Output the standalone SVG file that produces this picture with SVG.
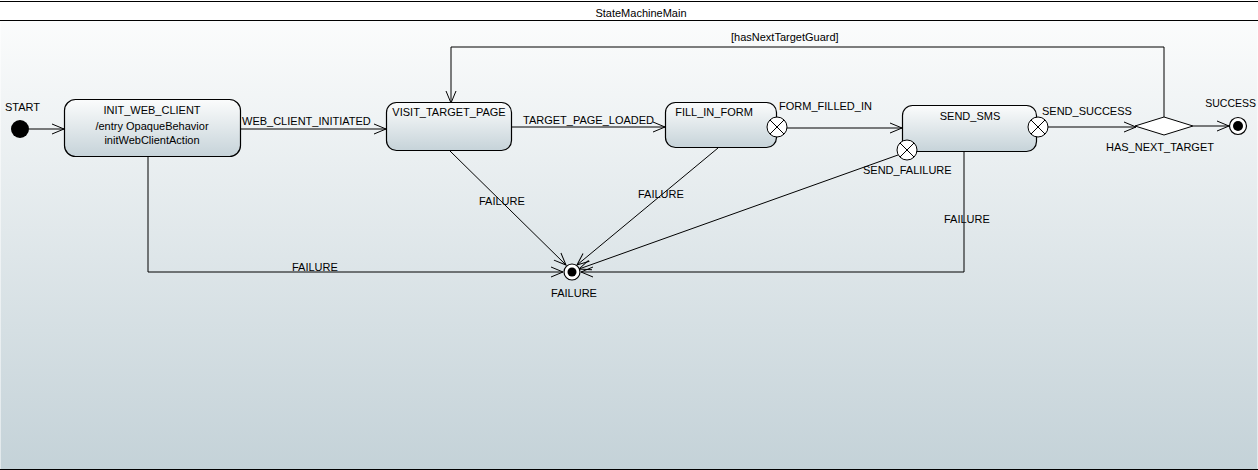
<svg xmlns="http://www.w3.org/2000/svg" width="1258" height="470" viewBox="0 0 1258 470">
<defs>
<linearGradient id="bg" x1="0" y1="0" x2="0" y2="1">
<stop offset="0" stop-color="#fbfcfc"/>
<stop offset="1" stop-color="#c4d2d8"/>
</linearGradient>
<linearGradient id="ng" x1="0" y1="0" x2="0" y2="1">
<stop offset="0" stop-color="#fbfcfc"/>
<stop offset="1" stop-color="#c6d3d9"/>
</linearGradient>
<marker id="arr" markerUnits="userSpaceOnUse" markerWidth="16" markerHeight="14" refX="13" refY="6" orient="auto" overflow="visible">
<path d="M1,1 L13,6 L1,11" fill="none" stroke="#000" stroke-width="1"/>
</marker>
</defs>
<style>
text{font-family:"Liberation Sans",Arial,sans-serif;font-size:11px;fill:#000}
.c{text-anchor:middle}
.st{fill:url(#ng);stroke:#000;stroke-width:1.2}
.ln{fill:none;stroke:#000;stroke-width:1;marker-end:url(#arr)}
.ex{fill:#fff;stroke:#000;stroke-width:1}
</style>
<rect x="0" y="0" width="1258" height="470" fill="#fff"/>
<rect x="0.5" y="20.5" width="1257" height="449" fill="url(#bg)"/>
<line x1="0" y1="1.5" x2="1258" y2="1.5" stroke="#000"/>
<line x1="0" y1="20.5" x2="1258" y2="20.5" stroke="#000"/>
<line x1="0" y1="469.5" x2="1258" y2="469.5" stroke="#000"/>
<text class="c" x="641" y="17">StateMachineMain</text>

<g id="connectors">
<line class="ln" x1="29" y1="129" x2="64" y2="129"/>
<line class="ln" x1="241" y1="129" x2="386" y2="129"/>
<line class="ln" x1="511" y1="127" x2="665" y2="127"/>
<line class="ln" x1="787" y1="128" x2="902" y2="128"/>
<line class="ln" x1="1048" y1="127" x2="1136" y2="127"/>
<line class="ln" x1="1193" y1="126" x2="1229" y2="126"/>
<polyline class="ln" points="1164,117 1164,47 451,47 451,103"/>
<polyline class="ln" points="148,157 148,272 563,272"/>
<line class="ln" x1="450" y1="151" x2="566" y2="265"/>
<line class="ln" x1="718" y1="148" x2="577" y2="265"/>
<line class="ln" x1="898" y1="155" x2="579" y2="269"/>
<polyline class="ln" points="964,152 964,272 581,272"/>
<text x="242" y="125">WEB_CLIENT_INITIATED</text>
<text x="523" y="124">TARGET_PAGE_LOADED</text>
<text x="779" y="110">FORM_FILLED_IN</text>
<text x="1042" y="115">SEND_SUCCESS</text>
<text x="731" y="41">[hasNextTargetGuard]</text>
<text x="292" y="271">FAILURE</text>
<text x="479" y="205">FAILURE</text>
<text x="638" y="198">FAILURE</text>
<text x="944" y="223">FAILURE</text>
</g>

<g id="START">
<circle cx="20" cy="129" r="9" fill="#000"/>
<text x="5" y="111">START</text>
</g>

<g id="INIT_WEB_CLIENT">
<rect class="st" x="64.5" y="99.5" width="176" height="57" rx="11"/>
<text class="c" x="152" y="114">INIT_WEB_CLIENT</text>
<text class="c" x="152" y="130">/entry OpaqueBehavior</text>
<text class="c" x="152" y="144">initWebClientAction</text>
</g>

<g id="VISIT_TARGET_PAGE">
<rect class="st" x="386.5" y="102.5" width="125" height="48" rx="10"/>
<text class="c" x="449" y="116">VISIT_TARGET_PAGE</text>
</g>

<g id="FILL_IN_FORM">
<rect class="st" x="665.5" y="102.5" width="111" height="45" rx="10"/>
<text class="c" x="714" y="116">FILL_IN_FORM</text>
<circle class="ex" cx="777" cy="127" r="10"/>
<path d="M770,120 L784,134 M784,120 L770,134" stroke="#000" fill="none"/>
</g>

<g id="SEND_SMS">
<rect class="st" x="902.5" y="105.5" width="134" height="46" rx="10"/>
<text class="c" x="970" y="120">SEND_SMS</text>
<circle class="ex" cx="1038" cy="127" r="10"/>
<path d="M1031,120 L1045,134 M1045,120 L1031,134" stroke="#000" fill="none"/>
<circle class="ex" cx="907" cy="150" r="10"/>
<path d="M900,143 L914,157 M914,143 L900,157" stroke="#000" fill="none"/>
<text x="863" y="174">SEND_FALILURE</text>
</g>

<g id="HAS_NEXT_TARGET">
<polygon points="1135,126 1164,117 1193,126 1164,135" fill="#fff" stroke="#000"/>
<text class="c" x="1160" y="151">HAS_NEXT_TARGET</text>
</g>

<g id="SUCCESS">
<circle cx="1238" cy="126" r="8.5" fill="#fff" stroke="#000" stroke-width="1.2"/>
<circle cx="1238" cy="126" r="5" fill="#000"/>
<text x="1256" y="107" text-anchor="end" style="font-size:10.5px">SUCCESS</text>
</g>

<g id="FAILURE">
<circle cx="572" cy="272" r="8" fill="#fff" stroke="#000" stroke-width="1.2"/>
<circle cx="572" cy="272" r="4.5" fill="#000"/>
<text class="c" x="574" y="297">FAILURE</text>
</g>
</svg>
